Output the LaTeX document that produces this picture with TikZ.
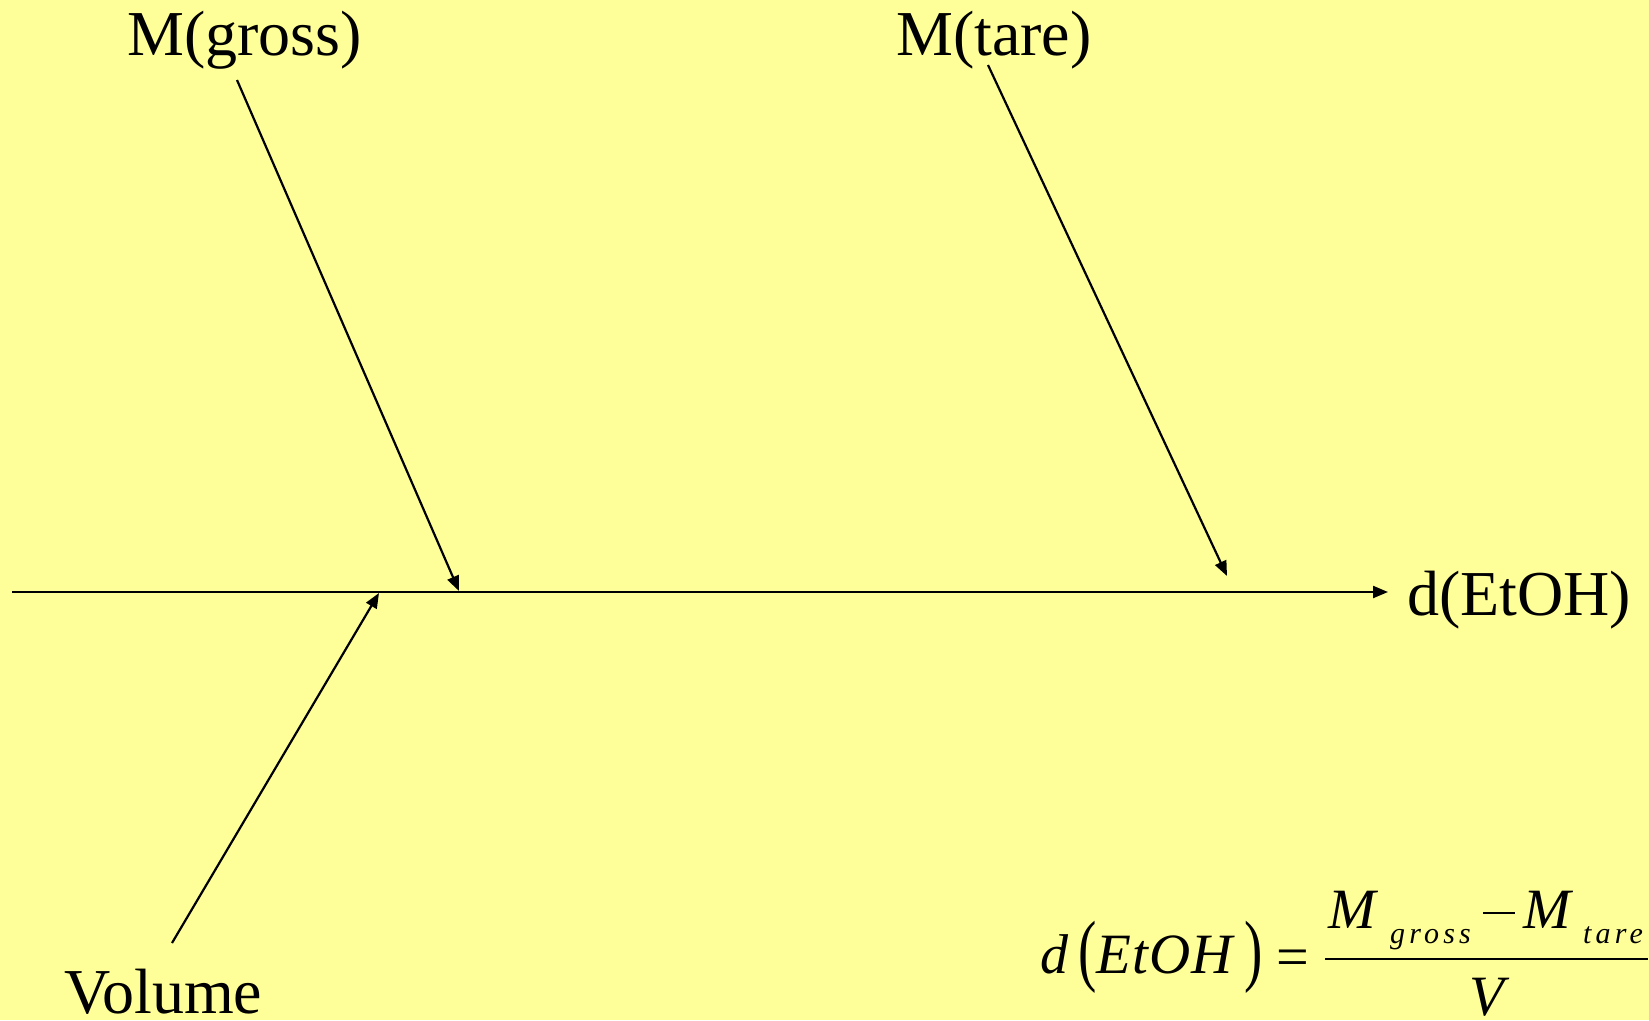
\documentclass[tikz,border=0pt]{standalone}
\usepackage{fontspec}
\setmainfont{Liberation Serif}
\usetikzlibrary{arrows.meta}
\definecolor{bgyellow}{HTML}{FFFF99}
\tikzset{
  lbl/.style={anchor=base west, inner sep=0pt, font=\fontsize{64}{70}\selectfont},
  eq/.style={anchor=base west, inner sep=0pt, font=\fontsize{56}{60}\selectfont\itshape},
  eqsub/.style={anchor=base west, inner sep=0pt, font=\fontsize{30}{34}\selectfont\itshape\addfontfeatures{LetterSpace=14}},
  conn/.style={line width=2.2pt, -{Triangle[length=15pt,width=12pt]}}
}
\begin{document}
\begin{tikzpicture}[x=1pt,y=-1pt]
\fill[bgyellow] (0,0) rectangle (1649,1020);
\useasboundingbox (0,0) rectangle (1649,1020);
% labels
\node[lbl] (mgross) at (127,55) {M(gross)};
\node[lbl] (mtare) at (896,55) {M(tare)};
\node[lbl] (deth) at (1407,615) {d(EtOH)};
\node[lbl] (vol) at (64,1013) {Volume};
% coordinates
\coordinate (spine0) at (12,592);
\coordinate (spine1) at (1388,592);
\coordinate (g0) at (237,80);
\coordinate (g1) at (459,591);
\coordinate (t0) at (988,65);
\coordinate (t1) at (1227,576);
\coordinate (v0) at (172,943);
\coordinate (v1) at (379,593);
% connectors
\draw[conn] (spine0) -- (spine1);
\draw[conn] (g0) -- (g1);
\draw[conn] (t0) -- (t1);
\draw[conn] (v0) -- (v1);
% formula
\node[eq] (fd) at (1040,973) {d};
\node[eq, font=\fontsize{55}{60}\selectfont] (flp) at (1078,976) {\scalebox{1}[1.45]{(}};
\node[eq, font=\fontsize{57}{60}\selectfont\itshape\addfontfeatures{LetterSpace=2}] (fetoh) at (1096,973) {EtOH};
\node[eq, font=\fontsize{55}{60}\selectfont] (frp) at (1244,976) {\scalebox{1}[1.45]{)}};
\node[eq, font=\fontsize{58}{60}\selectfont] (feq) at (1276,976) {=};
\node[eq, font=\fontsize{57}{60}\selectfont\itshape] (fm1) at (1328,928) {M};
\node[eqsub] (fgross) at (1390,943) {gross};
\node[anchor=center, inner sep=0pt] (fminus) at (1499,913) {\rule{32pt}{2.6pt}};
\node[eq, font=\fontsize{57}{60}\selectfont\itshape] (fm2) at (1523,928) {M};
\node[eqsub] (ftare) at (1583,943) {tare};
\coordinate (bar0) at (1325,959);
\coordinate (bar1) at (1648,959);
\draw[line width=2.5pt] (bar0) -- (bar1);
\node[eq, anchor=base, font=\fontsize{57}{60}\selectfont\itshape] (fv) at (1487,1015) {V};
\end{tikzpicture}
\end{document}
